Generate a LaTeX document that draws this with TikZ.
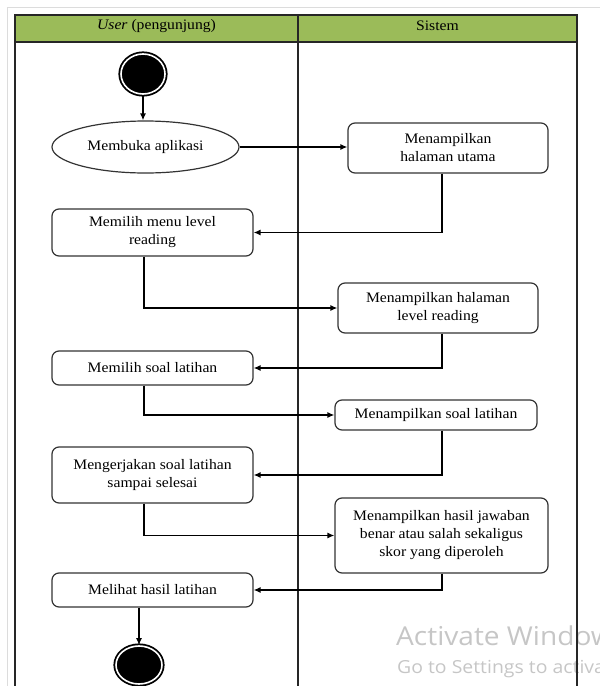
\documentclass[tikz,border=0pt]{standalone}
\usepackage{fontspec}
\setmainfont{Liberation Serif}[FakeStretch=1.08]
\newfontfamily\winfont{Open Sans}[FakeStretch=1.08]
\usetikzlibrary{arrows.meta,shapes.geometric}
\definecolor{headgreen}{HTML}{9BBB59}
\definecolor{framegray}{HTML}{DCDCDC}
\definecolor{wingray}{HTML}{C6C6C6}
\begin{document}
\begin{tikzpicture}[x=1pt,y=-1pt,
	txt/.style={font=\fontsize{14.5}{18}\selectfont},
	act/.style={txt,draw=black!80,line width=1.2pt,rounded corners=7pt,align=center,inner sep=2pt},
	usecase/.style={txt,ellipse,draw=black!80,line width=1.2pt,inner sep=0pt},
	endpt/.style={ellipse,fill=black,draw=black,double=white,double distance=1.6pt,line width=1.8pt,inner sep=0pt},
	flow/.style={-{Latex[length=7pt,width=6pt]},line width=1.3pt},
	lane/.style={line width=1.6pt,draw=black!85}]
	\useasboundingbox (0,0) rectangle (600,686);
	\draw[framegray,line width=1pt] (7,700) -- (7,7) -- (610,7);
	\node[anchor=base west,inner sep=0pt,text=wingray,font=\winfont\fontsize{26}{26}\selectfont] (wmA) at (396,645) {Activate Windows};
	\node[anchor=base west,inner sep=0pt,text=wingray,font=\winfont\fontsize{18}{18}\selectfont] (wmB) at (397,673) {Go to Settings to activate Windows.};
	\filldraw[lane,fill=headgreen] (15,15) rectangle (577,42);
	\foreach \lx in {15,298,577}
		\draw[lane] (\lx,15) -- (\lx,700);
	\node[txt] (hUser) at (156.5,26) {\textit{User} (pengunjung)};
	\node[txt] (hSys) at (437.5,26) {Sistem};
	\coordinate (lx) at (144,0);
	\coordinate (rx) at (442,0);
	\node[endpt,minimum width=44pt,minimum height=40pt] (start) at (143,74) {};
	\node[usecase,minimum width=187pt,minimum height=52pt] (L1) at (145.5,147) {Membuka aplikasi};
	\node[act,minimum width=200pt,minimum height=50pt] (B1) at (448,148) {Menampilkan\\halaman utama};
	\node[act,minimum width=201pt,minimum height=47pt] (L2) at (152.5,232.5) {Memilih menu level\\reading};
	\node[act,minimum width=200pt,minimum height=50pt] (B2) at (438,308) {Menampilkan halaman\\level reading};
	\node[act,minimum width=201pt,minimum height=34pt] (L3) at (152.5,368) {Memilih soal latihan};
	\node[act,minimum width=202pt,minimum height=30pt] (B3) at (436,415) {Menampilkan soal latihan};
	\node[act,minimum width=201pt,minimum height=56pt] (L4) at (152.5,475) {Mengerjakan soal latihan\\sampai selesai};
	\node[act,minimum width=213pt,minimum height=75pt] (B4) at (441.5,535.5) {Menampilkan hasil jawaban\\benar atau salah sekaligus\\skor yang diperoleh};
	\node[act,minimum width=201pt,minimum height=34pt] (L5) at (152.5,590) {Melihat hasil latihan};
	\node[endpt,minimum width=46pt,minimum height=38pt] (stop) at (139,665) {};
	\draw[flow] (start.south) -- (start.south |- L1.north);
	\draw[flow] (L1.east) -- (L1.east -| B1.west);
	\draw[flow] (B1.south -| rx) |- (L2.east);
	\draw[flow] (L2.south -| lx) |- (B2.west);
	\draw[flow] (B2.south -| rx) |- (L3.east);
	\draw[flow] (L3.south -| lx) |- (B3.west);
	\draw[flow] (B3.south -| rx) |- (L4.east);
	\draw[flow] (L4.south -| lx) |- (B4.west);
	\draw[flow] (B4.south -| rx) |- (L5.east);
	\draw[flow] (L5.south -| stop.north) -- (stop.north);
\end{tikzpicture}
\end{document}
